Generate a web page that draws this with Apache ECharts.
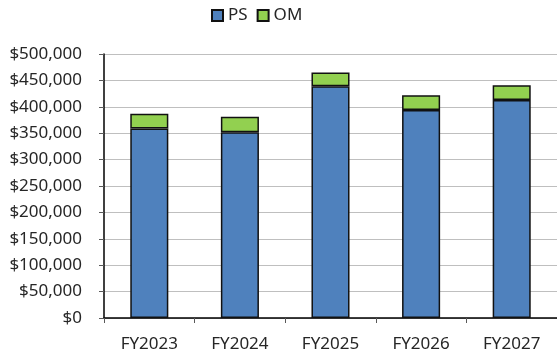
<!DOCTYPE html>
<html>
<head>
<meta charset="utf-8">
<script src="https://cdn.jsdelivr.net/npm/echarts@6/dist/echarts.min.js"></script>
<style>
  html, body { margin: 0; padding: 0; background: #fff; }
  #chart { width: 557px; height: 358px; }
</style>
</head>
<body>
<div id="chart"></div>
<script>
// Fiscal years and stacked cost components (USD)
const categories = ['FY2023', 'FY2024', 'FY2025', 'FY2026', 'FY2027'];
const psValues = [359000, 352000, 439000, 394000, 413000];
const omValues = [28000, 29000, 26000, 28000, 28000];
const seriesNames = ['PS', 'OM'];

const FONT = '"Noto Sans", "Open Sans", sans-serif';
const chart = echarts.init(document.getElementById('chart'), null, { renderer: 'canvas' });

function money(v) {
  return '$' + v.toLocaleString('en-US');
}

chart.setOption({
  animation: false,
  legend: {
    top: 2,
    left: 206,
    itemWidth: 11,
    itemHeight: 11,
    itemGap: 9,
    icon: 'rect',
    textStyle: { fontFamily: FONT, fontSize: 17, color: '#262626', padding: [0, 0, 0, 0] },
    data: seriesNames
  },
  grid: { left: 104, right: -2, top: 54, bottom: 40, containLabel: false },
  xAxis: {
    type: 'category',
    data: categories,
    axisLine: { lineStyle: { color: '#000', width: 1.5 } },
    axisTick: { show: true, length: 5, lineStyle: { color: '#595959' } },
    axisLabel: { fontFamily: FONT, fontSize: 17, color: '#262626', margin: 18 }
  },
  yAxis: {
    type: 'value',
    min: 0,
    max: 500000,
    interval: 50000,
    axisLine: { show: true, lineStyle: { color: '#000', width: 1.5 } },
    axisTick: { show: true, length: 5, lineStyle: { color: '#595959' } },
    axisLabel: { fontFamily: FONT, fontSize: 17, color: '#262626', margin: 22, formatter: money },
    splitLine: { lineStyle: { color: '#BFBFBF', width: 1 } }
  },
  series: [
    {
      name: seriesNames[0],
      type: 'bar',
      stack: 'total',
      barWidth: '42%',
      data: psValues,
      itemStyle: { color: '#4F81BD', borderColor: '#111', borderWidth: 1.5 }
    },
    {
      name: seriesNames[1],
      type: 'bar',
      stack: 'total',
      barWidth: '42%',
      data: omValues,
      itemStyle: { color: '#92D050', borderColor: '#111', borderWidth: 1.5 }
    }
  ]
});
</script>
</body>
</html>
